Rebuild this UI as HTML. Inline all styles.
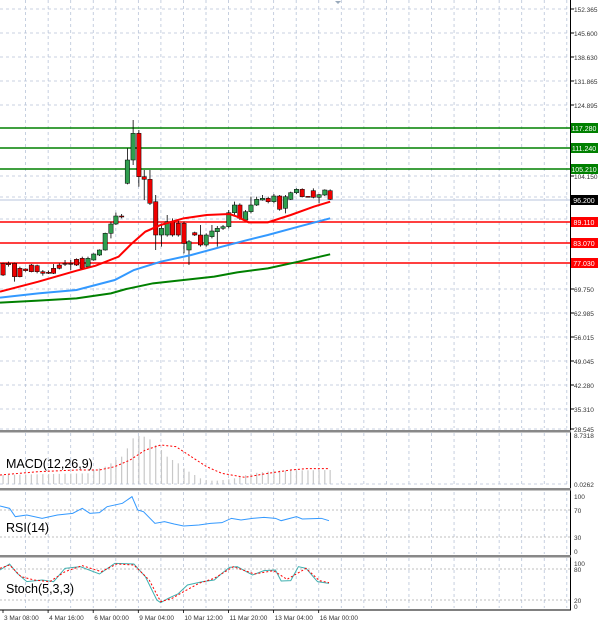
<!DOCTYPE html><html><head><meta charset="utf-8"><style>
body{margin:0;background:#fff;width:600px;height:625px;overflow:hidden}
svg{display:block;font-family:"Liberation Sans",sans-serif}
</style></head><body>
<svg id="s" width="600" height="625" xmlns="http://www.w3.org/2000/svg"></svg>
<script>
const K=2.614;
const s=document.getElementById('s');let h='';
const L=(x1,y1,x2,y2,c,w,d)=>h+=`<line x1="${x1}" y1="${y1}" x2="${x2}" y2="${y2}" stroke="${c}" stroke-width="${w||1}" ${d?`stroke-dasharray="${d}"`:''}/>`;
const T=(x,y,t,sz,c,a)=>h+=`<text x="${x}" y="${y}" font-size="${sz}" fill="${c||'#000'}" ${a?`text-anchor="${a}"`:''}>${t}</text>`;
for(let x=25.6;x<570;x+=22.55){L(x,0,x,428,'#b8c4d8',0.8,'3,3');L(x,433,x,487,'#b8c4d8',0.8,'3,3');L(x,492,x,554,'#b8c4d8',0.8,'3,3');L(x,558,x,608,'#b8c4d8',0.8,'3,3');}
const labs=[[152.365,9],[145.600,33],[138.630,57],[131.865,81],[124.895,105],[104.150,176],[97.435,197],[90.400,219],[69.750,289],[62.985,313],[56.015,337],[49.045,361],[42.280,385],[35.310,409],[28.545,429]];
for(const[v,y] of labs){L(0,y,570,y,'#b8c4d8',0.8,'3,3');L(570,y,574,y,'#000',1);T(574,y+3,v.toFixed(3),6.5,'#333');}
L(0,200,570,200,'#d0d8e8',1.5);
const lv=[[128,'117.280','#008000'],[148,'111.240','#008000'],[169,'105.210','#008000'],[222,'89.110','#f00'],[243,'83.070','#f00'],[263,'77.030','#f00']];
for(const[y,t,c] of lv){L(0,y,571,y,c,1.6);h+=`<rect x="571" y="${y-5}" width="27" height="10" fill="${c}"/>`;T(584,y+3,t,7,'#fff','middle');}
h+=`<rect x="571" y="195" width="27" height="10" fill="#000"/>`;T(584,203,'96.200',7,'#fff','middle');
const cd=[[8,490,525,488,528],[22,490,494,485,500],[38,490,530,488,545],[52,505,530,500,532],[67,507,512,505,515],[82,495,515,492,517],[97,497,515,494,520],[112,515,520,510,527],[127,517,519,512,522],[140,505,520,492,522],[155,495,505,490,508],[170,490,492,480,498],[185,490,492,480,510],[200,478,495,475,498],[215,475,505,470,508],[230,500,475,470,505],[245,480,462,460,482],[260,465,450,448,468],[275,450,400,398,452],[290,400,372,365,415],[303,372,348,338,375],[318,348,348,342,355],[333,250,180,145,253],[348,180,100,60,195],[363,100,230,90,260],[377,230,238,210,300],[392,238,310,210,315],[407,305,405,285,450],[422,405,385,370,440],[437,405,365,345,410],[451,365,405,355,410],[466,370,405,360,410],[481,370,430,365,460],[494,450,425,420,495],[509,398,405,395,408],[524,405,435,375,440],[539,435,405,400,440],[554,410,393,375,415],[568,395,385,378,440],[583,385,380,375,390],[598,380,338,330,385],[613,338,315,305,345],[627,315,355,310,360],[642,360,335,330,362],[656,335,315,290,340],[671,315,298,290,318],[686,300,295,285,302],[701,295,305,290,310],[716,305,288,282,310],[731,288,328,285,332],[746,325,290,285,340],[760,298,278,275,300],[775,278,268,265,282],[790,268,290,265,292],[805,289,291,288,292],[819,272,292,265,295],[834,292,284,282,310],[849,285,270,268,288],[863,272,298,268,300]];
for(const[zx,o,c,hi,lo] of cd){const x=zx/K,yo=100+o/3,yc=100+c/3,yh=100+hi/3,yl=100+lo/3;const up=c<o;L(x,yh,x,yl,'#000',0.8);const t=Math.min(yo,yc),b=Math.max(Math.abs(yo-yc),1);h+=`<rect x="${x-2.2}" y="${t}" width="4.4" height="${b}" fill="${up?'#2e9e4e':'#e00'}" stroke="#000" stroke-width="0.5"/>`;}
const P=(pts,c,w,d,oy)=>{h+=`<polyline fill="none" stroke="${c}" stroke-width="${w}" ${d?`stroke-dasharray="${d}"`:''} points="${pts.map(p=>(p[0]/K)+','+(oy+p[1]/3)).join(' ')}"/>`;};
P([[0,575],[100,545],[200,512],[250,497],[310,470],[345,430],[380,395],[420,375],[480,355],[540,345],[600,342],[620,350],[650,367],[700,367],[760,345],[820,320],[863,305]],'#f00',2,0,100);
P([[0,593],[100,580],[200,570],[300,540],[350,510],[420,485],[500,465],[580,440],[640,422],[700,405],[780,380],[863,355]],'#3399ff',2,0,100);
P([[0,608],[100,602],[200,595],[290,580],[330,567],[400,550],[480,540],[560,530],[620,517],[700,505],[780,485],[863,463]],'#008000',2,0,100);
L(570.5,0,570.5,610,'#000',1);
for(const y of [431,489,556])h+=`<rect x="0" y="${y-1}" width="571" height="2.5" fill="#888"/>`;
L(0,610,571,610,'#000',1);
const mx=[[0,165],[230,160],[245,150],[260,145],[275,140],[290,130],[303,120],[318,110],[333,85],[348,55],[363,48],[377,50],[392,58],[407,75],[422,90],[437,110],[451,120],[466,130],[481,145],[494,155],[509,165],[524,175],[539,180],[554,182],[568,182],[583,180],[598,178],[613,175],[660,160],[720,152],[863,150]];
function interp(a,x){for(let i=0;i<a.length-1;i++)if(x>=a[i][0]&&x<=a[i+1][0]){const f=(x-a[i][0])/(a[i+1][0]-a[i][0]);return a[i][1]+f*(a[i+1][1]-a[i][1]);}return a[a.length-1][1];}
for(const c of cd){const x=c[0]/K;L(x,420+interp(mx,c[0])/3,x,484,'#c8c8c8',1.2);}
P([[0,165],[100,155],[200,150],[260,150],[300,140],[340,120],[380,90],[420,75],[460,80],[500,110],[540,140],[580,160],[640,172],[700,160],[760,150],[800,146],[860,146]],'#f00',1,'2,2',420);
L(0,484,570,484,'#b8c4d8',0.8,'3,3');
T(6,468,'MACD(12,26,9)',12.5,'#000');T(574,438,'8.7318',6.5,'#333');T(574,487,'0.0262',6.5,'#333');
L(0,510,570,510,'#aaa',0.8,'2,2');L(0,537,570,537,'#aaa',0.8,'2,2');
P([[0,258],[25,265],[40,290],[70,285],[110,295],[150,285],[190,280],[215,265],[235,280],[260,278],[280,260],[320,250],[345,230],[360,270],[375,275],[405,310],[430,305],[455,312],[480,318],[520,315],[550,310],[580,308],[605,295],[630,300],[660,295],[690,292],[720,295],[735,302],[775,290],[790,297],[840,295],[860,302]],'#3399ff',1,0,420);
T(6,532,'RSI(14)',12.5,'#000');T(574,499,'100',6.5,'#333');T(574,513,'70',6.5,'#333');T(574,540,'30',6.5,'#333');T(574,554,'0',6.5,'#333');
L(0,569,570,569,'#aaa',0.8,'2,2');L(0,600,570,600,'#aaa',0.8,'2,2');
P([[0,450],[25,432],[45,460],[70,485],[110,480],[140,485],[170,445],[210,440],[260,462],[300,430],[350,432],[380,470],[410,540],[420,548],[440,535],[465,522],[490,495],[530,485],[560,480],[580,460],[600,442],[620,440],[660,465],[690,452],[720,450],[735,483],[760,482],[780,440],[800,445],[830,485],[860,490]],'#40b0b0',1,0,420);
P([[0,445],[25,435],[55,470],[90,480],[130,485],[170,455],[215,437],[265,455],[305,432],[350,435],[390,480],[420,545],[450,535],[480,515],[520,490],[560,475],[610,440],[665,462],[715,452],[750,478],[800,445],[835,482],[860,488]],'#f00',1,'2,2',420);
T(6,593,'Stoch(5,3,3)',12.5,'#000');T(574,566,'100',6.5,'#333');T(574,572,'80',6.5,'#333');T(574,603,'20',6.5,'#333');T(574,609,'0',6.5,'#333');
const tl=['3 Mar 08:00','4 Mar 16:00','6 Mar 00:00','9 Mar 04:00','10 Mar 12:00','11 Mar 20:00','13 Mar 04:00','16 Mar 00:00'];
tl.forEach((t,i)=>{const x=3+i*45.1;L(x,610,x,613,'#000',0.8);T(x+1,620,t,6.5,'#333');});
h+=`<polygon points="335,1 341,1 338,4" fill="#9ab"/>`;
s.innerHTML=h;
</script></body></html>
